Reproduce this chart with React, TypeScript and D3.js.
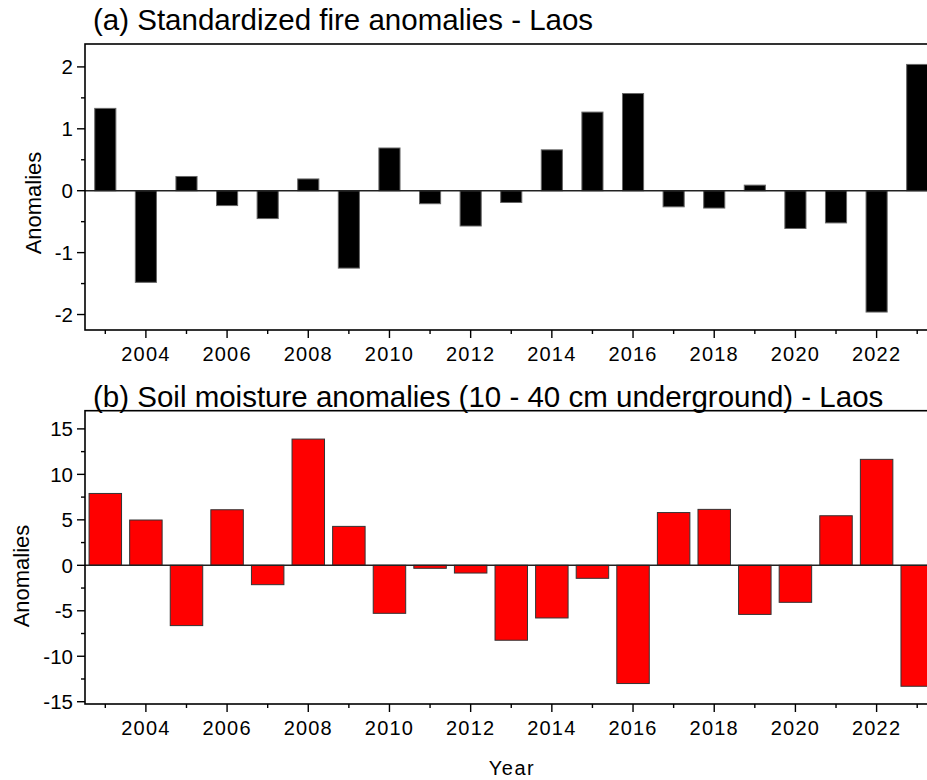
import React from "react";
import * as d3 from "d3";

const years = [2003, 2004, 2005, 2006, 2007, 2008, 2009, 2010, 2011, 2012, 2013, 2014, 2015, 2016, 2017, 2018, 2019, 2020, 2021, 2022, 2023];
const fireAnomalies = [1.33, -1.48, 0.23, -0.24, -0.45, 0.19, -1.25, 0.69, -0.21, -0.57, -0.19, 0.66, 1.27, 1.57, -0.26, -0.28, 0.09, -0.61, -0.52, -1.96, 2.04];
const soilAnomalies = [7.9, 4.98, -6.63, 6.11, -2.13, 13.88, 4.28, -5.28, -0.33, -0.85, -8.24, -5.79, -1.43, -13.0, 5.8, 6.15, -5.4, -4.07, 5.45, 11.65, -13.3];
const xTickLabels = [2004, 2006, 2008, 2010, 2012, 2014, 2016, 2018, 2020, 2022];
const fireTicks = [-2, -1, 0, 1, 2];
const fireMinor = [-1.5, -0.5, 0.5, 1.5];
const soilTicks = [-15, -10, -5, 0, 5, 10, 15];
const soilMinor = [-12.5, -7.5, -2.5, 2.5, 7.5, 12.5];
const titleA = "(a) Standardized fire anomalies - Laos";
const titleB = "(b) Soil moisture anomalies (10 - 40 cm underground) - Laos";

const FONT = "'Liberation Sans', Arial, sans-serif";
const W = 927;
const H = 780;
const LEFT = 85;

const x = d3.scaleLinear().domain([2002.5, 2023.5]).range([LEFT, 937.5]);

type PanelProps = {
  values: number[];
  domain: [number, number];
  top: number;
  bottom: number;
  ticks: number[];
  minor: number[];
  fill: string;
  stroke: string;
  barFrac: number;
  title: string;
  titleY: number;
  labelX: number;
  labelY: number;
};

function Panel(p: PanelProps) {
  const y = d3.scaleLinear().domain(p.domain).range([p.bottom, p.top]);
  const step = x(2004) - x(2003);
  const bw = step * p.barFrac;
  const right = x(2023.5);
  const allYears = d3.range(2003, 2024);
  return (
    <g>
      <text x={93} y={p.titleY} fontSize={29.5} fontFamily={FONT} fill="#000">{p.title}</text>
      {p.values.map((v, i) => {
        const y0 = y(0);
        const yv = y(v);
        return (
          <rect
            key={years[i]}
            x={x(years[i]) - bw / 2}
            y={Math.min(y0, yv)}
            width={bw}
            height={Math.abs(yv - y0)}
            fill={p.fill}
            stroke={p.stroke}
            strokeWidth={1}
          />
        );
      })}
      <line x1={LEFT} x2={right} y1={y(0)} y2={y(0)} stroke="#222" strokeWidth={1.4} />
      <rect x={LEFT} y={p.top} width={right - LEFT} height={p.bottom - p.top} fill="none" stroke="#000" strokeWidth={1.6} />
      {p.ticks.map((t) => (
        <g key={"yt" + t}>
          <line x1={LEFT - 8} x2={LEFT} y1={y(t)} y2={y(t)} stroke="#000" strokeWidth={1.4} />
          <text x={LEFT - 12} y={y(t)} dy="0.36em" textAnchor="end" fontSize={20.5} fontFamily={FONT} fill="#000">
            {t}
          </text>
        </g>
      ))}
      {p.minor.map((t) => (
        <line key={"ym" + t} x1={LEFT - 4} x2={LEFT} y1={y(t)} y2={y(t)} stroke="#000" strokeWidth={1.4} />
      ))}
      {allYears.map((yr) => (
        <line
          key={"xt" + yr}
          x1={x(yr)}
          x2={x(yr)}
          y1={p.bottom}
          y2={p.bottom + (yr % 2 === 0 ? 8 : 4)}
          stroke="#000"
          strokeWidth={1.4}
        />
      ))}
      {xTickLabels.map((yr) => (
        <text
          key={"xl" + yr}
          x={x(yr)}
          y={p.bottom + 31}
          textAnchor="middle"
          fontSize={20}
          letterSpacing={1.2}
          fontFamily={FONT}
          fill="#000"
        >
          {yr}
        </text>
      ))}
      <text
        transform={`translate(${p.labelX},${p.labelY}) rotate(-90)`}
        textAnchor="middle"
        dy="0.35em"
        fontSize={22}
        fontFamily={FONT}
        fill="#000"
      >
        Anomalies
      </text>
    </g>
  );
}

export default function App() {
  return (
    <svg
      width={W}
      height={H}
      viewBox={`0 0 ${W} ${H}`}
      style={{ position: "absolute", left: 0, top: 0, background: "#fff", overflow: "hidden" }}
    >
      <rect x={0} y={0} width={W} height={H} fill="#fff" />
      <Panel
        values={fireAnomalies}
        domain={[-2.25, 2.37]}
        top={44}
        bottom={330}
        ticks={fireTicks}
        minor={fireMinor}
        fill="#000"
        stroke="#666"
        barFrac={0.52}
        title={titleA}
        titleY={30}
        labelX={33.5}
        labelY={203}
      />
      <Panel
        values={soilAnomalies}
        domain={[-15.25, 17]}
        top={410.7}
        bottom={704}
        ticks={soilTicks}
        minor={soilMinor}
        fill="#ff0000"
        stroke="#333"
        barFrac={0.8}
        title={titleB}
        titleY={407}
        labelX={21}
        labelY={576}
      />
      <text x={512} y={775} textAnchor="middle" fontSize={20} letterSpacing={1.5} fontFamily={FONT} fill="#000">
        Year
      </text>
    </svg>
  );
}
